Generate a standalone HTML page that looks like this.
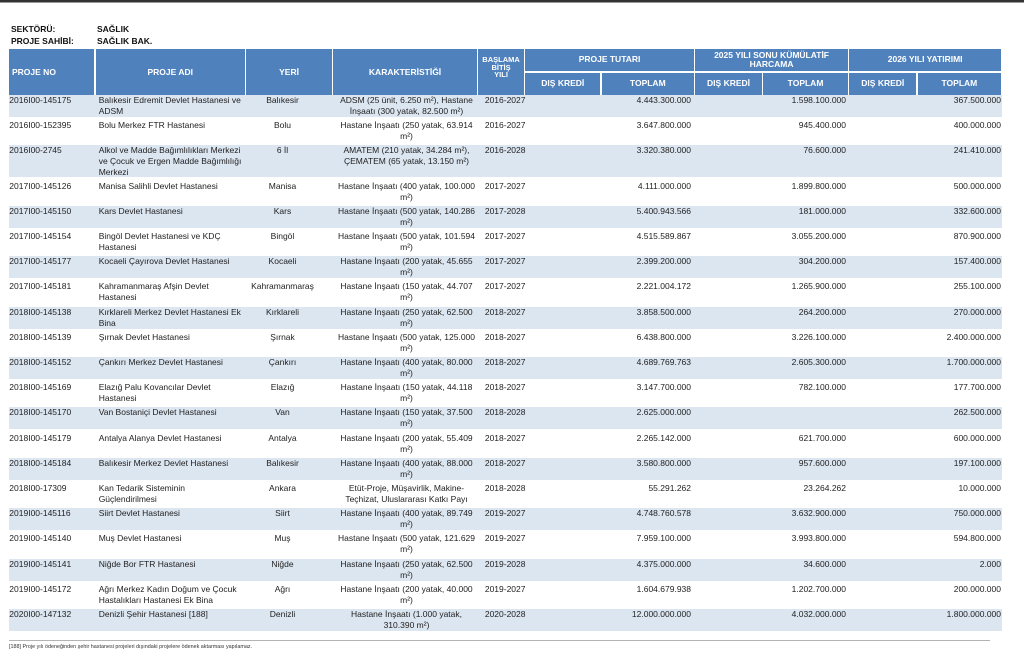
<!DOCTYPE html>
<html>
<head>
<meta charset="utf-8">
<style>
html,body{margin:0;padding:0;background:#fff;}
body{width:1024px;height:660px;position:relative;overflow:hidden;font-family:"Liberation Sans",Arial,sans-serif;color:#222;}
.topbar{position:absolute;left:0;top:0;width:1024px;height:2px;background:#333;}
.topbar2{position:absolute;left:0;top:2px;width:1024px;height:1px;background:#999;}
.t{position:absolute;font-weight:bold;font-size:8.5px;line-height:11px;color:#111;white-space:nowrap;}
.h{position:absolute;background:#4f81bd;color:#fff;font-weight:bold;font-size:8.5px;display:flex;align-items:center;justify-content:center;text-align:center;line-height:9px;white-space:nowrap;}
.hb{position:absolute;background:#4f81bd;color:#fff;font-weight:bold;text-align:center;white-space:nowrap;}
.hb div{display:block;}
.r{position:absolute;left:9px;width:993px;height:22px;font-size:8.5px;line-height:11px;}
.s{background:#dce6f1;}
.c{position:absolute;top:0;white-space:nowrap;}
.no{left:0.3px;}
.ad{left:89.7px;}
.ye{left:237px;width:73px;text-align:center;}
.ka{left:327px;width:141px;text-align:center;}
.yi{left:470px;width:46.5px;text-align:right;}
.p1{left:600px;width:82px;text-align:right;}
.p2{left:755px;width:82px;text-align:right;}
.p3{left:900px;width:92px;text-align:right;}
.line{position:absolute;left:9px;top:640px;width:981px;height:1px;background:#b3b3b3;}
.fn{position:absolute;left:9px;top:643.5px;font-size:5.4px;line-height:7px;color:#333;white-space:nowrap;}
</style>
</head>
<body>
<div class="topbar"></div>
<div class="topbar2"></div>

<div class="t" style="left:11px;top:23.5px;">SEKTÖRÜ:</div>
<div class="t" style="left:97px;top:23.5px;">SAĞLIK</div>
<div class="t" style="left:11px;top:36px;">PROJE SAHİBİ:</div>
<div class="t" style="left:97px;top:36px;">SAĞLIK BAK.</div>

<!-- header -->
<div class="h" style="left:9px;top:49px;width:85.2px;height:46px;justify-content:flex-start;padding-left:3px;box-sizing:border-box;">PROJE NO</div>
<div class="h" style="left:95.8px;top:49px;width:148.9px;height:46px;">PROJE ADI</div>
<div class="h" style="left:246.3px;top:49px;width:85.5px;height:46px;">YERİ</div>
<div class="h" style="left:333.3px;top:49px;width:143.5px;height:46px;">KARAKTERİSTİĞİ</div>
<div class="hb" style="left:478.3px;top:49px;width:45.5px;height:46px;font-size:7.5px;line-height:7.5px;padding-top:7px;box-sizing:border-box;"><div>BAŞLAMA</div><div>BİTİŞ</div><div>YILI</div></div>

<div class="h" style="left:525.3px;top:49px;width:168.5px;height:21.5px;">PROJE TUTARI</div>
<div class="hb" style="left:695.3px;top:49px;width:152.5px;height:21.5px;font-size:8.5px;line-height:9px;padding-top:1.5px;box-sizing:border-box;"><div>2025 YILI SONU KÜMÜLATİF</div><div>HARCAMA</div></div>
<div class="h" style="left:849.3px;top:49px;width:151.7px;height:21.5px;">2026 YILI YATIRIMI</div>

<div class="h" style="left:525.3px;top:72.5px;width:75px;height:22.5px;">DIŞ KREDİ</div>
<div class="h" style="left:601.8px;top:72.5px;width:92px;height:22.5px;">TOPLAM</div>
<div class="h" style="left:695.3px;top:72.5px;width:66.5px;height:22.5px;">DIŞ KREDİ</div>
<div class="h" style="left:763.3px;top:72.5px;width:84.5px;height:22.5px;">TOPLAM</div>
<div class="h" style="left:849.3px;top:72.5px;width:67px;height:22.5px;">DIŞ KREDİ</div>
<div class="h" style="left:917.8px;top:72.5px;width:83.2px;height:22.5px;">TOPLAM</div>

<!-- rows -->
<div class="r s" style="top:95px;">
<div class="c no">2016I00-145175</div>
<div class="c ad">Balıkesir Edremit Devlet Hastanesi ve<br>ADSM</div>
<div class="c ye">Balıkesir</div>
<div class="c ka">ADSM (25 ünit, 6.250 m²), Hastane<br>İnşaatı (300 yatak, 82.500 m²)</div>
<div class="c yi">2016-2027</div>
<div class="c p1">4.443.300.000</div>
<div class="c p2">1.598.100.000</div>
<div class="c p3">367.500.000</div>
</div>

<div class="r" style="top:120.2px;">
<div class="c no">2016I00-152395</div>
<div class="c ad">Bolu Merkez FTR Hastanesi</div>
<div class="c ye">Bolu</div>
<div class="c ka">Hastane İnşaatı (250 yatak, 63.914<br>m²)</div>
<div class="c yi">2016-2027</div>
<div class="c p1">3.647.800.000</div>
<div class="c p2">945.400.000</div>
<div class="c p3">400.000.000</div>
</div>

<div class="r s" style="top:145.4px;height:32px;">
<div class="c no">2016I00-2745</div>
<div class="c ad">Alkol ve Madde Bağımlılıkları Merkezi<br>ve Çocuk ve Ergen Madde Bağımlılığı<br>Merkezi</div>
<div class="c ye">6 İl</div>
<div class="c ka">AMATEM (210 yatak, 34.284 m²),<br>ÇEMATEM (65 yatak, 13.150 m²)</div>
<div class="c yi">2016-2028</div>
<div class="c p1">3.320.380.000</div>
<div class="c p2">76.600.000</div>
<div class="c p3">241.410.000</div>
</div>

<div class="r" style="top:180.6px;">
<div class="c no">2017I00-145126</div>
<div class="c ad">Manisa Salihli Devlet Hastanesi</div>
<div class="c ye">Manisa</div>
<div class="c ka">Hastane İnşaatı (400 yatak, 100.000<br>m²)</div>
<div class="c yi">2017-2027</div>
<div class="c p1">4.111.000.000</div>
<div class="c p2">1.899.800.000</div>
<div class="c p3">500.000.000</div>
</div>

<div class="r s" style="top:205.8px;">
<div class="c no">2017I00-145150</div>
<div class="c ad">Kars Devlet Hastanesi</div>
<div class="c ye">Kars</div>
<div class="c ka">Hastane İnşaatı (500 yatak, 140.286<br>m²)</div>
<div class="c yi">2017-2028</div>
<div class="c p1">5.400.943.566</div>
<div class="c p2">181.000.000</div>
<div class="c p3">332.600.000</div>
</div>

<div class="r" style="top:231px;">
<div class="c no">2017I00-145154</div>
<div class="c ad">Bingöl Devlet Hastanesi ve KDÇ<br>Hastanesi</div>
<div class="c ye">Bingöl</div>
<div class="c ka">Hastane İnşaatı (500 yatak, 101.594<br>m²)</div>
<div class="c yi">2017-2027</div>
<div class="c p1">4.515.589.867</div>
<div class="c p2">3.055.200.000</div>
<div class="c p3">870.900.000</div>
</div>

<div class="r s" style="top:256.2px;">
<div class="c no">2017I00-145177</div>
<div class="c ad">Kocaeli Çayırova Devlet Hastanesi</div>
<div class="c ye">Kocaeli</div>
<div class="c ka">Hastane İnşaatı (200 yatak, 45.655<br>m²)</div>
<div class="c yi">2017-2027</div>
<div class="c p1">2.399.200.000</div>
<div class="c p2">304.200.000</div>
<div class="c p3">157.400.000</div>
</div>

<div class="r" style="top:281.4px;">
<div class="c no">2017I00-145181</div>
<div class="c ad">Kahramanmaraş Afşin Devlet<br>Hastanesi</div>
<div class="c ye">Kahramanmaraş</div>
<div class="c ka">Hastane İnşaatı (150 yatak, 44.707<br>m²)</div>
<div class="c yi">2017-2027</div>
<div class="c p1">2.221.004.172</div>
<div class="c p2">1.265.900.000</div>
<div class="c p3">255.100.000</div>
</div>

<div class="r s" style="top:306.6px;">
<div class="c no">2018I00-145138</div>
<div class="c ad">Kırklareli Merkez Devlet Hastanesi Ek<br>Bina</div>
<div class="c ye">Kırklareli</div>
<div class="c ka">Hastane İnşaatı (250 yatak, 62.500<br>m²)</div>
<div class="c yi">2018-2027</div>
<div class="c p1">3.858.500.000</div>
<div class="c p2">264.200.000</div>
<div class="c p3">270.000.000</div>
</div>

<div class="r" style="top:331.8px;">
<div class="c no">2018I00-145139</div>
<div class="c ad">Şırnak Devlet Hastanesi</div>
<div class="c ye">Şırnak</div>
<div class="c ka">Hastane İnşaatı (500 yatak, 125.000<br>m²)</div>
<div class="c yi">2018-2027</div>
<div class="c p1">6.438.800.000</div>
<div class="c p2">3.226.100.000</div>
<div class="c p3">2.400.000.000</div>
</div>

<div class="r s" style="top:357px;">
<div class="c no">2018I00-145152</div>
<div class="c ad">Çankırı Merkez Devlet Hastanesi</div>
<div class="c ye">Çankırı</div>
<div class="c ka">Hastane İnşaatı (400 yatak, 80.000<br>m²)</div>
<div class="c yi">2018-2027</div>
<div class="c p1">4.689.769.763</div>
<div class="c p2">2.605.300.000</div>
<div class="c p3">1.700.000.000</div>
</div>

<div class="r" style="top:382.2px;">
<div class="c no">2018I00-145169</div>
<div class="c ad">Elazığ Palu Kovancılar Devlet<br>Hastanesi</div>
<div class="c ye">Elazığ</div>
<div class="c ka">Hastane İnşaatı (150 yatak, 44.118<br>m²)</div>
<div class="c yi">2018-2027</div>
<div class="c p1">3.147.700.000</div>
<div class="c p2">782.100.000</div>
<div class="c p3">177.700.000</div>
</div>

<div class="r s" style="top:407.4px;">
<div class="c no">2018I00-145170</div>
<div class="c ad">Van Bostaniçi Devlet Hastanesi</div>
<div class="c ye">Van</div>
<div class="c ka">Hastane İnşaatı (150 yatak, 37.500<br>m²)</div>
<div class="c yi">2018-2028</div>
<div class="c p1">2.625.000.000</div>
<div class="c p3">262.500.000</div>
</div>

<div class="r" style="top:432.6px;">
<div class="c no">2018I00-145179</div>
<div class="c ad">Antalya Alanya Devlet Hastanesi</div>
<div class="c ye">Antalya</div>
<div class="c ka">Hastane İnşaatı (200 yatak, 55.409<br>m²)</div>
<div class="c yi">2018-2027</div>
<div class="c p1">2.265.142.000</div>
<div class="c p2">621.700.000</div>
<div class="c p3">600.000.000</div>
</div>

<div class="r s" style="top:457.8px;">
<div class="c no">2018I00-145184</div>
<div class="c ad">Balıkesir Merkez Devlet Hastanesi</div>
<div class="c ye">Balıkesir</div>
<div class="c ka">Hastane İnşaatı (400 yatak, 88.000<br>m²)</div>
<div class="c yi">2018-2027</div>
<div class="c p1">3.580.800.000</div>
<div class="c p2">957.600.000</div>
<div class="c p3">197.100.000</div>
</div>

<div class="r" style="top:483px;">
<div class="c no">2018I00-17309</div>
<div class="c ad">Kan Tedarik Sisteminin<br>Güçlendirilmesi</div>
<div class="c ye">Ankara</div>
<div class="c ka">Etüt-Proje, Müşavirlik, Makine-<br>Teçhizat, Uluslararası Katkı Payı</div>
<div class="c yi">2018-2028</div>
<div class="c p1">55.291.262</div>
<div class="c p2">23.264.262</div>
<div class="c p3">10.000.000</div>
</div>

<div class="r s" style="top:508.2px;">
<div class="c no">2019I00-145116</div>
<div class="c ad">Siirt Devlet Hastanesi</div>
<div class="c ye">Siirt</div>
<div class="c ka">Hastane İnşaatı (400 yatak, 89.749<br>m²)</div>
<div class="c yi">2019-2027</div>
<div class="c p1">4.748.760.578</div>
<div class="c p2">3.632.900.000</div>
<div class="c p3">750.000.000</div>
</div>

<div class="r" style="top:533.4px;">
<div class="c no">2019I00-145140</div>
<div class="c ad">Muş Devlet Hastanesi</div>
<div class="c ye">Muş</div>
<div class="c ka">Hastane İnşaatı (500 yatak, 121.629<br>m²)</div>
<div class="c yi">2019-2027</div>
<div class="c p1">7.959.100.000</div>
<div class="c p2">3.993.800.000</div>
<div class="c p3">594.800.000</div>
</div>

<div class="r s" style="top:558.6px;">
<div class="c no">2019I00-145141</div>
<div class="c ad">Niğde Bor FTR Hastanesi</div>
<div class="c ye">Niğde</div>
<div class="c ka">Hastane İnşaatı (250 yatak, 62.500<br>m²)</div>
<div class="c yi">2019-2028</div>
<div class="c p1">4.375.000.000</div>
<div class="c p2">34.600.000</div>
<div class="c p3">2.000</div>
</div>

<div class="r" style="top:583.8px;">
<div class="c no">2019I00-145172</div>
<div class="c ad">Ağrı Merkez Kadın Doğum ve Çocuk<br>Hastalıkları Hastanesi Ek Bina</div>
<div class="c ye">Ağrı</div>
<div class="c ka">Hastane İnşaatı (200 yatak, 40.000<br>m²)</div>
<div class="c yi">2019-2027</div>
<div class="c p1">1.604.679.938</div>
<div class="c p2">1.202.700.000</div>
<div class="c p3">200.000.000</div>
</div>

<div class="r s" style="top:609.3px;">
<div class="c no">2020I00-147132</div>
<div class="c ad">Denizli Şehir Hastanesi [188]</div>
<div class="c ye">Denizli</div>
<div class="c ka">Hastane İnşaatı (1.000 yatak,<br>310.390 m²)</div>
<div class="c yi">2020-2028</div>
<div class="c p1">12.000.000.000</div>
<div class="c p2">4.032.000.000</div>
<div class="c p3">1.800.000.000</div>
</div>

<div class="line"></div>
<div class="fn">[188] Proje yılı ödeneğinden şehir hastanesi projeleri dışındaki projelere ödenek aktarması yapılamaz.</div>
</body>
</html>
